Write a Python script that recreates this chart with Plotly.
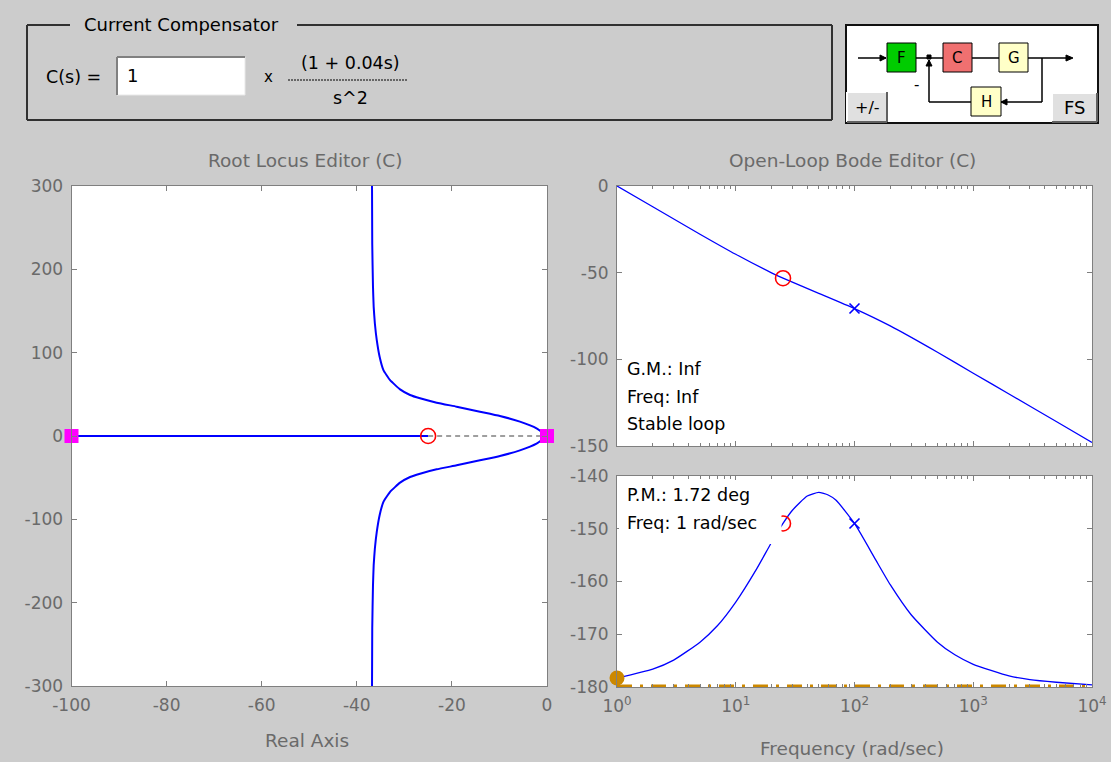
import plotly.graph_objects as go

# ---------------- data ----------------
# Root locus: upper branch (real, imag); lower branch is its mirror image
rl_up_x = [0, -2.2, -5.7, -9.9, -14.1, -19.0, -23.2, -26.7, -28.8, -30.9,
           -33.0, -34.4, -35.2, -35.8, -36.2, -36.45, -36.6, -36.75, -36.8]
rl_up_y = [0, 9.2, 17.2, 24, 29.2, 35.2, 40, 45.2, 49.2, 56,
           67, 79, 95, 115, 135, 155, 180, 230, 300]
rl_real_x = [-100, -25]          # solid real-axis segment
rl_dash_x = [-25, 0]             # dashed segment
rl_zero = [-25]                  # compensator zero
rl_cl_poles = [-100, 0]          # closed-loop pole markers

# Bode magnitude
mag_w = [1, 2, 5, 10, 20, 25, 50, 100, 200, 500, 1000, 2000, 5000, 10000]
mag_db = [0, -12.0, -27.8, -39.4, -50.1, -53.2, -61.9, -70.7, -80.7, -95.9,
          -108.0, -120.0, -135.9, -148.0]
# Bode phase
ph_w = [1, 2, 3, 5, 7, 10, 15, 20, 25, 30, 40, 50, 60, 70, 100, 150, 200,
        300, 500, 700, 1000, 2000, 3000, 5000, 10000]
ph_deg = [-178.3, -176.6, -174.9, -171.5, -168.4, -163.9, -157.6, -152.6,
          -149.0, -146.5, -143.8, -143.1, -143.6, -144.6, -149.0, -155.8,
          -160.6, -166.3, -171.5, -173.9, -175.7, -177.9, -178.6, -179.1, -179.6]
zero_w, zero_mag, zero_ph = 25, -53.2, -149.0
pole_w, pole_mag, pole_ph = 100, -70.7, -149.0
pm_w, pm_ph = 1, -178.3
ref_ph = -180

rl_xticks = [-100, -80, -60, -40, -20, 0]
rl_yticks = [-300, -200, -100, 0, 100, 200, 300]
mag_yticks = [-150, -100, -50, 0]
ph_yticks = [-180, -170, -160, -150, -140]
freq_ticks = [1, 10, 100, 1000, 10000]
freq_ticktext = ["10<sup>0</sup>", "10<sup>1</sup>", "10<sup>2</sup>",
                 "10<sup>3</sup>", "10<sup>4</sup>"]
freq_minor = [m * d for d in [1, 10, 100, 1000] for m in range(2, 10)]

# ---------------- layout helpers ----------------
W, H = 1111, 762
FONT = "DejaVu Sans"
GREY_TXT = "#6a6a6a"
AX = "#7f7f7f"
BLUE = "#0000ff"
ORANGE = "#cc8800"


def fx(x):
    return x / W


def fy(y):
    return 1 - y / H


def labels(vals):
    return [str(v) for v in vals]   # plain hyphen minus, as in the reference


shapes = []
annots = []


def rect(x0, y0, x1, y1, fill=None, color="black", width=1, layer="above"):
    shapes.append(dict(type="rect", xref="paper", yref="paper",
                       x0=fx(x0), x1=fx(x1), y0=fy(y0), y1=fy(y1),
                       fillcolor=fill if fill else "rgba(0,0,0,0)",
                       line=dict(color=color, width=width), layer=layer))


def line(x0, y0, x1, y1, color="black", width=1, dash="solid"):
    shapes.append(dict(type="line", xref="paper", yref="paper",
                       x0=fx(x0), x1=fx(x1), y0=fy(y0), y1=fy(y1),
                       line=dict(color=color, width=width, dash=dash),
                       layer="above"))


def tri(pts, color="black"):
    p = "M " + " L ".join(f"{fx(a)} {fy(b)}" for a, b in pts) + " Z"
    shapes.append(dict(type="path", xref="paper", yref="paper", path=p,
                       fillcolor=color, line=dict(color=color, width=1),
                       layer="above"))


def txt(x, y, s, size=18, color="black", xanchor="left", yanchor="middle"):
    annots.append(dict(x=fx(x), y=fy(y), xref="paper", yref="paper", text=s,
                       showarrow=False, xanchor=xanchor, yanchor=yanchor,
                       font=dict(family=FONT, size=size, color=color)))


# ---------------- traces ----------------
fig = go.Figure()

# Root locus
fig.add_trace(go.Scatter(x=rl_real_x, y=[0, 0], mode="lines",
                         line=dict(color=BLUE, width=2), xaxis="x", yaxis="y"))
fig.add_trace(go.Scatter(x=rl_dash_x, y=[0, 0], mode="lines",
                         line=dict(color="#808080", width=1.5, dash="5px,4px"),
                         xaxis="x", yaxis="y"))
fig.add_trace(go.Scatter(x=rl_up_x, y=rl_up_y, mode="lines",
                         line=dict(color=BLUE, width=2, shape="spline", smoothing=0.4),
                         xaxis="x", yaxis="y"))
fig.add_trace(go.Scatter(x=rl_up_x, y=[-v for v in rl_up_y], mode="lines",
                         line=dict(color=BLUE, width=2, shape="spline", smoothing=0.4),
                         xaxis="x", yaxis="y"))
fig.add_trace(go.Scatter(x=rl_zero, y=[0], mode="markers",
                         marker=dict(symbol="circle-open", size=15,
                                     color="#ff0000", line=dict(width=1.6)),
                         xaxis="x", yaxis="y"))
fig.add_trace(go.Scatter(x=rl_cl_poles, y=[0, 0], mode="markers", cliponaxis=False,
                         marker=dict(symbol="square", size=14, color="#ff00ff",
                                     line=dict(width=0)),
                         xaxis="x", yaxis="y"))

# Bode magnitude
fig.add_trace(go.Scatter(x=mag_w, y=mag_db, mode="lines",
                         line=dict(color=BLUE, width=1.3, shape="spline", smoothing=0.5),
                         xaxis="x2", yaxis="y2"))
fig.add_trace(go.Scatter(x=[zero_w], y=[zero_mag], mode="markers",
                         marker=dict(symbol="circle-open", size=15, color="#ff0000",
                                     line=dict(width=1.6)), xaxis="x2", yaxis="y2"))
fig.add_trace(go.Scatter(x=[pole_w], y=[pole_mag], mode="markers",
                         marker=dict(symbol="x-thin", size=10, color=BLUE,
                                     line=dict(width=1.6, color=BLUE)),
                         xaxis="x2", yaxis="y2"))

# Bode phase
fig.add_trace(go.Scatter(x=[freq_ticks[0], freq_ticks[-1]], y=[ref_ph, ref_ph],
                         mode="lines",
                         line=dict(color=ORANGE, width=5, dash="15px,8px,3px,8px"),
                         xaxis="x3", yaxis="y3"))
fig.add_trace(go.Scatter(x=ph_w, y=ph_deg, mode="lines",
                         line=dict(color=BLUE, width=1.3, shape="spline", smoothing=0.5),
                         xaxis="x3", yaxis="y3"))
fig.add_trace(go.Scatter(x=[zero_w], y=[zero_ph], mode="markers",
                         marker=dict(symbol="circle-open", size=15, color="#ff0000",
                                     line=dict(width=1.6)), xaxis="x3", yaxis="y3"))
fig.add_trace(go.Scatter(x=[pole_w], y=[pole_ph], mode="markers",
                         marker=dict(symbol="x-thin", size=10, color=BLUE,
                                     line=dict(width=1.6, color=BLUE)),
                         xaxis="x3", yaxis="y3"))
fig.add_trace(go.Scatter(x=[pm_w], y=[pm_ph], mode="markers", cliponaxis=False,
                         marker=dict(symbol="circle", size=15, color=ORANGE,
                                     line=dict(width=0)),
                         xaxis="x3", yaxis="y3"))


def axis(**kw):
    d = dict(showline=True, linecolor=AX, linewidth=1, mirror="ticks",
             ticks="inside", ticklen=5, tickcolor=AX, tickwidth=1,
             showgrid=False, zeroline=False, ticklabelstandoff=4, automargin=False,
             tickfont=dict(family=FONT, size=17, color=GREY_TXT))
    d.update(kw)
    return d


minor = dict(tickvals=freq_minor, ticks="inside", ticklen=3, tickcolor=AX)

fig.update_layout(
    width=W, height=H, margin=dict(l=0, r=0, t=0, b=0, pad=0, autoexpand=False),
    paper_bgcolor="#cccccc", plot_bgcolor="white", showlegend=False,
    xaxis=axis(domain=[fx(71.5), fx(547)], range=[-100, 0], tickvals=rl_xticks,
               ticktext=labels(rl_xticks), anchor="y"),
    yaxis=axis(domain=[fy(686), fy(186)], range=[-300, 300], tickvals=rl_yticks,
               ticktext=labels(rl_yticks), anchor="x"),
    xaxis2=axis(domain=[fx(617), fx(1092)], type="log", range=[0, 4],
                tickvals=freq_ticks, showticklabels=False, minor=minor, anchor="y2"),
    yaxis2=axis(domain=[fy(446), fy(186)], range=[-150, 0], tickvals=mag_yticks,
                ticktext=labels(mag_yticks), anchor="x2"),
    xaxis3=axis(domain=[fx(617), fx(1092)], type="log", range=[0, 4],
                tickvals=freq_ticks, ticktext=freq_ticktext, minor=minor, anchor="y3"),
    yaxis3=axis(domain=[fy(687), fy(476)], range=[-180, -140], tickvals=ph_yticks,
                ticktext=labels(ph_yticks), anchor="x3"),
)

# ---------------- titles / labels ----------------
txt(305, 160, "Root Locus Editor (C)", 18.5, GREY_TXT, "center")
txt(852, 160, "Open-Loop Bode Editor (C)", 18.5, GREY_TXT, "center")
txt(307, 740, "Real Axis", 18.5, GREY_TXT, "center")
txt(852, 748, "Frequency (rad/sec)", 18.5, GREY_TXT, "center")

# Margin readouts
txt(625, 369, "G.M.: Inf", 17.5)
txt(625, 397, "Freq: Inf", 17.5)
txt(625, 424, "Stable loop", 17.5)
rect(619, 480, 781.5, 544, fill="white", color="white", width=0)
txt(625, 495, "P.M.: 1.72 deg", 17.5)
txt(625, 523, "Freq: 1 rad/sec", 17.5)

# ---------------- Current Compensator panel ----------------
line(27, 25, 70, 25, "#303030", 2)
line(297, 25, 832, 25, "#303030", 2)
line(27, 25, 27, 120, "#303030", 2)
line(27, 120, 832, 120, "#303030", 2)
line(832, 25, 832, 120, "#303030", 2)
txt(82, 25, "Current Compensator", 18)
txt(44, 77, "C(s) =", 17.5)
rect(117, 57, 245, 95, fill="white", color="#e8e8e8", width=1)
line(117, 57, 245, 57, "#808080", 2)
line(117, 57, 117, 95, "#808080", 2)
txt(125, 76, "1", 18)
txt(268, 77, "x", 15, "black", "center")
txt(350, 63, "(1 + 0.04s)", 17.5, "black", "center")
line(288, 80, 408, 80, "black", 1, "2px,1px")
txt(350, 98, "s^2", 17.5, "black", "center")

# ---------------- block diagram ----------------
rect(846, 25, 1098, 123, fill="white", color="#101010", width=2, layer="above")
# signal lines
line(858, 58, 886, 58, width=1.5)
line(916, 58, 943, 58, width=1.5)
line(972, 58, 999, 58, width=1.5)
line(1028, 58, 1070, 58, width=1.5)
line(1042, 58, 1042, 102, width=1.5)
line(1042, 102, 1001, 102, width=1.5)
line(971, 102, 929, 102, width=1.5)
line(929, 102, 929, 60, width=1.5)
tri([(886, 58), (880, 55), (880, 61)])
tri([(1073, 58), (1066, 55), (1066, 61)])
tri([(1001, 102), (1007, 99), (1007, 105)])
tri([(929, 60), (926, 66), (932, 66)])
rect(927, 55, 931, 59, fill="black", color="black", width=1)
txt(916, 85, "-", 15, "black", "center")
# blocks
rect(887, 43, 916, 72, fill="#00cc00", color="black", width=1)
rect(943, 43, 972, 72, fill="#f07070", color="black", width=1)
rect(999, 43, 1028, 72, fill="#ffffc8", color="black", width=1)
rect(971, 87, 1001, 116, fill="#ffffc8", color="black", width=1)
txt(901.5, 58, "F", 15, "black", "center")
txt(957.5, 58, "C", 15, "black", "center")
txt(1013.5, 58, "G", 15, "black", "center")
txt(986, 102, "H", 15, "black", "center")
# buttons
rect(847, 92, 887, 122, fill="#e0e0e0", color="#e0e0e0", width=1)
line(847, 92, 887, 92, "white", 2)
line(847, 92, 847, 122, "white", 2)
line(847, 122, 887, 122, "#606060", 2)
line(887, 92, 887, 122, "#606060", 2)
txt(867, 107, "+/-", 16, "black", "center")
rect(1052, 93, 1097, 122, fill="#e0e0e0", color="#e0e0e0", width=1)
line(1052, 93, 1097, 93, "white", 2)
line(1052, 93, 1052, 122, "white", 2)
line(1052, 122, 1097, 122, "#606060", 2)
line(1097, 93, 1097, 122, "#606060", 2)
txt(1074.5, 107, "FS", 18, "black", "center")

fig.update_layout(shapes=shapes, annotations=annots)
fig.write_html("out.html")
